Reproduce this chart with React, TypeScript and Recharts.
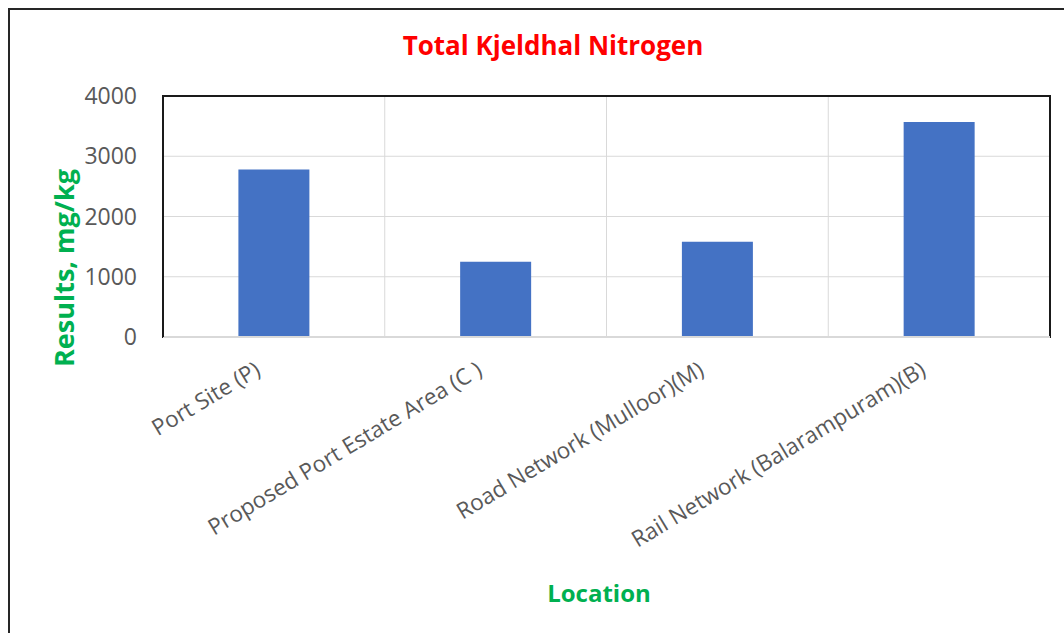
import { BarChart, Bar, XAxis, YAxis, CartesianGrid, ReferenceArea } from 'recharts';

const locations = [
    'Port Site (P)',
    'Proposed Port Estate Area (C )',
    'Road Network (Mulloor)(M)',
    'Rail Network (Balarampuram)(B)',
];
const nitrogen = [2780, 1250, 1580, 3570];
const yTicks = [0, 1000, 2000, 3000, 4000];

const data = locations.map((name, i) => ({ name, value: nitrogen[i] }));

const FONT = '"Open Sans", sans-serif';

// rotated category label, right end sits just under the category centre
const LocationTick = (props: any) => {
    const { x, y, payload } = props;
    return (
        <g transform={`translate(${x - 12},${y + 29})`}>
            <text
                textAnchor="end"
                transform="rotate(-31)"
                fill="#595959"
                fontSize={22.5}
                fontFamily={FONT}
            >
                {payload.value}
            </text>
        </g>
    );
};

const App = () => {
    return (
        <div style={{ position: 'absolute', left: 0, top: 0, width: 1064, height: 633, background: '#fff', overflow: 'hidden' }}>
            <div
                style={{
                    position: 'absolute',
                    left: 8,
                    top: 8,
                    width: 1100,
                    height: 700,
                    borderLeft: '2px solid #262626',
                    borderTop: '2px solid #262626',
                }}
            />
            <div
                style={{
                    position: 'absolute',
                    left: 0,
                    width: 1106,
                    top: 27,
                    textAlign: 'center',
                    color: '#ff0000',
                    fontFamily: FONT,
                    fontWeight: 700,
                    fontSize: 26,
                    lineHeight: '36px',
                }}
            >
                Total Kjeldhal Nitrogen
            </div>
            <div
                style={{
                    position: 'absolute',
                    left: 63,
                    top: 268,
                    transform: 'translate(-50%, -50%) rotate(-90deg)',
                    whiteSpace: 'nowrap',
                    color: '#00b050',
                    fontFamily: FONT,
                    fontWeight: 700,
                    fontSize: 27,
                }}
            >
                Results, mg/kg
            </div>
            <div
                style={{
                    position: 'absolute',
                    left: 599,
                    top: 592,
                    transform: 'translate(-50%, -50%)',
                    whiteSpace: 'nowrap',
                    color: '#00b050',
                    fontFamily: FONT,
                    fontWeight: 700,
                    fontSize: 24,
                }}
            >
                Location
            </div>
            <div style={{ position: 'absolute', left: 0, top: 0 }}>
                <BarChart
                    width={1064}
                    height={633}
                    data={data}
                    margin={{ top: 96, right: 14, bottom: 0, left: 0 }}
                    barCategoryGap="34%"
                >
                    <CartesianGrid
                        stroke="#d9d9d9"
                        strokeWidth={1}
                        verticalCoordinatesGenerator={({ offset }: any) =>
                            [1, 2, 3].map((i) => offset.left + (offset.width * i) / locations.length)
                        }
                    />
                    {/* plot frame */}
                    <ReferenceArea
                        y1={0}
                        y2={4000}
                        fill="none"
                        fillOpacity={0}
                        stroke="#1a1a1a"
                        strokeWidth={2}
                        ifOverflow="visible"
                    />
                    <XAxis
                        dataKey="name"
                        height={296}
                        interval={0}
                        tick={<LocationTick />}
                        tickLine={false}
                        axisLine={{ stroke: '#d9d9d9', strokeWidth: 2 }}
                    />
                    <YAxis
                        width={163}
                        domain={[0, 4000]}
                        ticks={yTicks}
                        interval={0}
                        tickLine={false}
                        tickSize={0}
                        tickMargin={26}
                        axisLine={{ stroke: '#1a1a1a', strokeWidth: 2 }}
                        tick={{ fill: '#595959', fontSize: 23, fontFamily: FONT }}
                    />
                    <Bar dataKey="value" fill="#4472c4" isAnimationActive={false} />
                </BarChart>
            </div>
        </div>
    );
};

export default App;
